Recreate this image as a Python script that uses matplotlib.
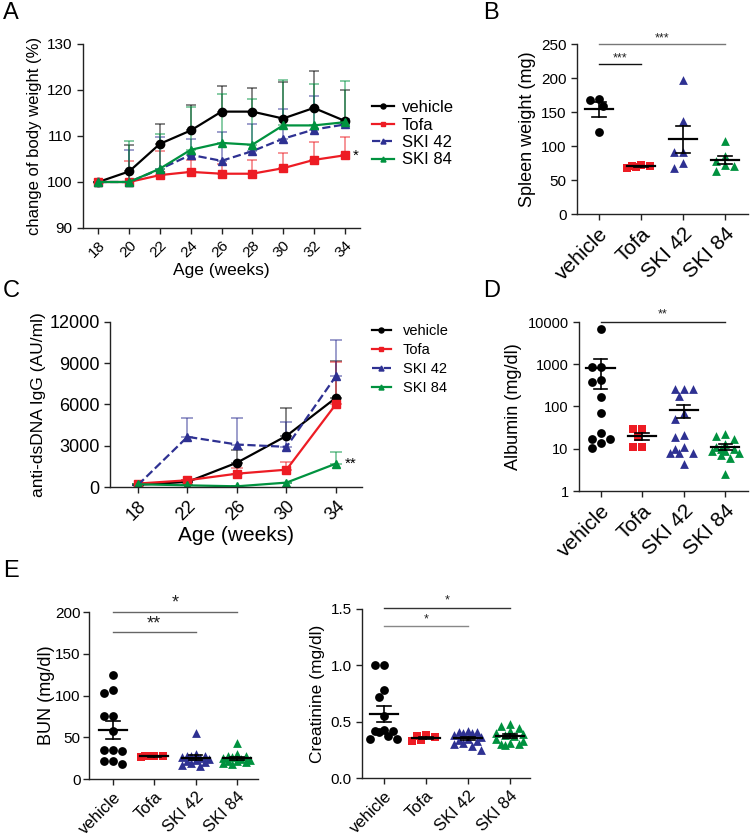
import numpy as np
import matplotlib
matplotlib.use('Agg')
import matplotlib.pyplot as plt

plt.rcParams['font.family'] = ['Liberation Sans', 'DejaVu Sans']
plt.rcParams['axes.linewidth'] = 1.0

W, H = 750, 838

groups = ['vehicle', 'Tofa', 'SKI 42', 'SKI 84']
colors = ['#000000', '#ed1c24', '#2e3192', '#00923f']
markers = ['o', 's', '^', '^']

# A - body weight change (%)
weeks_a = [18, 20, 22, 24, 26, 28, 30, 32, 34]
bw_vehicle = [100, 102.3, 108.3, 111.2, 115.3, 115.3, 113.8, 116.1, 113.3]
bw_tofa = [100, 100, 101.5, 102.2, 101.8, 101.8, 103.0, 104.8, 105.8]
bw_ski42 = [100, 100, 102.8, 105.9, 104.6, 106.7, 109.4, 111.4, 112.5]
bw_ski84 = [100, 100, 102.9, 107.0, 108.5, 108.1, 112.3, 112.3, 113.0]
bw_vehicle_err = [0, 5.8, 4.3, 5.6, 5.6, 5.1, 7.9, 8.1, 6.7]
bw_tofa_err = [0, 4.5, 5.2, 2.5, 2.2, 2.9, 3.3, 3.8, 4.0]
bw_ski42_err = [0, 6.9, 7.0, 3.5, 6.3, 6.0, 6.4, 7.4, 1.3]
bw_ski84_err = [0, 9.0, 7.5, 9.4, 10.6, 10.0, 9.9, 9.0, 8.9]

# B - spleen weight (mg)
spleen = [
    [169, 167, 159, 120],
    [70, 68, 72, 69, 71],
    [197, 137, 91, 91, 75, 67],
    [108, 85, 78, 72, 70, 63],
]

# C - anti-dsDNA IgG (AU/ml)
weeks_c = [18, 22, 26, 30, 34]
ig_vehicle = [170, 370, 1770, 3720, 6490]
ig_tofa = [250, 490, 970, 1260, 6030]
ig_ski42 = [150, 3650, 3090, 2920, 8070]
ig_ski84 = [200, 120, 50, 320, 1700]
ig_vehicle_err = [0, 0, 950, 2000, 2650]
ig_tofa_err = [0, 0, 420, 560, 3050]
ig_ski42_err = [0, 1380, 1900, 1820, 2650]
ig_ski84_err = [0, 0, 0, 0, 850]

# D - albumin (mg/dl)
albumin = [
    [6830, 880, 870, 424, 373, 165, 71, 17, 23, 14, 17, 10.6],
    [29, 29, 19, 11, 11],
    [255, 255, 255, 177, 71, 50, 21, 19, 10, 8, 8, 8, 11, 4.4],
    [22, 20, 17, 13, 11, 10, 10, 9, 9, 8, 7, 6, 2.5],
]

# E - BUN and creatinine (mg/dl)
bun = [
    [124, 103, 107, 76, 75, 58, 35, 34, 35, 18, 22, 22],
    [28, 27, 27, 26, 28],
    [55, 30, 28, 27, 27, 26, 25, 24, 23, 22, 20, 19, 17, 16],
    [43, 30, 28, 27, 26, 25, 24, 23, 22, 21, 20, 19, 18],
]
creat = [
    [1.0, 1.0, 0.78, 0.72, 0.55, 0.43, 0.42, 0.42, 0.41, 0.37, 0.35, 0.35],
    [0.38, 0.37, 0.36, 0.34, 0.33],
    [0.42, 0.41, 0.41, 0.40, 0.40, 0.38, 0.36, 0.35, 0.34, 0.33, 0.31, 0.30, 0.28, 0.25],
    [0.48, 0.46, 0.44, 0.42, 0.40, 0.39, 0.38, 0.37, 0.35, 0.33, 0.31, 0.30, 0.30, 0.29],
]

fig = plt.figure(figsize=(W / 100, H / 100), dpi=100)


def px_axes(left, top, right, bottom):
    ax = fig.add_axes([left / W, 1 - bottom / H, (right - left) / W, (bottom - top) / H])
    ax.spines['top'].set_visible(False)
    ax.spines['right'].set_visible(False)
    for s in ['left', 'bottom']:
        ax.spines[s].set_color('#222222')
    ax.tick_params(direction='out', length=4, width=1, color='#222222')
    return ax


def swarm(ax, x0, vals, d, maxw=14):
    # spread points sideways (in pixels) so they overlap less, within +-maxw
    vals = np.asarray(vals, dtype=float)
    disp = ax.transData.transform(np.column_stack([np.full(len(vals), x0), vals]))
    cx = disp[0, 0]
    ys = disp[:, 1]
    cands = [0.0]
    k = 1
    while k * 0.5 * d <= maxw:
        cands += [-k * 0.5 * d, k * 0.5 * d]
        k += 1
    placed = []
    offs = np.zeros(len(vals))
    for i in np.argsort(-ys):
        best, best_gap = 0.0, -1
        for c in cands:
            gap = min([np.hypot(c - px, ys[i] - py) for px, py in placed] + [1e9])
            if gap >= 0.9 * d:
                best = c
                break
            if gap > best_gap:
                best, best_gap = c, gap
        offs[i] = best
        placed.append((best, ys[i]))
    back = ax.transData.inverted().transform(np.column_stack([cx + offs, ys]))
    return back[:, 0]


def dot_panel(ax, data, d=9, s=40):
    for i, vals in enumerate(data):
        xs = swarm(ax, i, vals, d)
        ax.scatter(xs, vals, marker=markers[i], color=colors[i], s=s, linewidths=0, zorder=3, clip_on=False)
        m = np.mean(vals)
        sem = np.std(vals, ddof=1) / np.sqrt(len(vals))
        ax.plot([i - 0.34, i + 0.34], [m, m], color='k', lw=1.6, zorder=4)
        ax.plot([i, i], [m - sem, m + sem], color='k', lw=1.2, zorder=4)
        for yy in (m - sem, m + sem):
            ax.plot([i - 0.16, i + 0.16], [yy, yy], color='k', lw=1.2, zorder=4)
    ax.set_xticks(range(4))


def sig(ax, x1, x2, y, ytext, label, color='#555555', fs=9):
    ax.plot([x1, x2], [y, y], color=color, lw=1.0, clip_on=False)
    ax.text((x1 + x2) / 2, ytext, label, ha='center', va='center', fontsize=fs, color='#222222')


def panel_label(x, y, t):
    fig.text(x / W, 1 - y / H, t, ha='left', va='top', fontsize=17)


def rotate_ticks(ax):
    for lab in ax.get_xticklabels():
        lab.set_rotation(45)
        lab.set_ha('right')
        lab.set_rotation_mode('anchor')


# ---- A ----
axA = px_axes(83, 44, 360, 228)
series_a = [(bw_vehicle, bw_vehicle_err), (bw_tofa, bw_tofa_err), (bw_ski42, bw_ski42_err), (bw_ski84, bw_ski84_err)]
for (v, e), c in zip(series_a, colors):
    axA.errorbar(weeks_a, v, yerr=[np.zeros(len(e)), e], fmt='none', ecolor=c, alpha=0.55,
                 elinewidth=1.2, capsize=3.5, capthick=1.2)
handles = []
for (v, e), c, mk, g in zip(series_a, colors, markers, groups):
    ls = '--' if g == 'SKI 42' else '-'
    h, = axA.plot(weeks_a, v, color=c, marker=mk, ms=6, lw=1.6, ls=ls, label=g)
    handles.append(h)
axA.set_xlim(17, 35)
axA.set_ylim(90, 130)
axA.set_yticks([90, 100, 110, 120, 130])
axA.set_xticks(weeks_a)
axA.tick_params(axis='y', labelsize=11)
axA.tick_params(axis='x', labelsize=11)
rotate_ticks(axA)
axA.set_ylabel('change of body weight (%)', fontsize=12)
axA.set_xlabel('Age (weeks)', fontsize=12.5, labelpad=2)
axA.text(34.5, bw_tofa[-1], '*', fontsize=11, va='center', ha='left')
fig.legend(handles, groups, loc='upper left', bbox_to_anchor=(372 / W, 1 - 100 / H),
           frameon=False, fontsize=12, handlelength=1.3, handletextpad=0.5,
           labelspacing=0.15, borderaxespad=0, borderpad=0, markerscale=0.6)

# ---- B ----
axB = px_axes(577, 44, 748, 214)
axB.set_xlim(-0.52, 3.55)
axB.set_ylim(0, 250)
dot_panel(axB, spleen, d=9, s=40)
axB.set_xticklabels(groups, fontsize=15)
rotate_ticks(axB)
axB.tick_params(axis='y', labelsize=11)
axB.set_ylabel('Spleen weight (mg)', fontsize=13)
sig(axB, 0, 1, 220, 229, '***', color='#111111', fs=9)
sig(axB, 0, 3, 250, 258, '***', color='#777777', fs=9)

# ---- C ----
axC = px_axes(110, 322, 362, 487)
series_c = [(ig_vehicle, ig_vehicle_err), (ig_tofa, ig_tofa_err), (ig_ski42, ig_ski42_err), (ig_ski84, ig_ski84_err)]
for (v, e), c in zip(series_c, colors):
    axC.errorbar(weeks_c, v, yerr=[np.zeros(len(e)), e], fmt='none', ecolor=c, alpha=0.55,
                 elinewidth=1.2, capsize=4, capthick=1.2)
handles_c = []
for (v, e), c, mk, g in zip(series_c, colors, markers, groups):
    ls = '--' if g == 'SKI 42' else '-'
    h, = axC.plot(weeks_c, v, color=c, marker=mk, ms=6, lw=1.6, ls=ls, label=g)
    handles_c.append(h)
axC.set_xlim(15.74, 36.1)
axC.set_ylim(0, 12000)
axC.set_yticks([0, 3000, 6000, 9000, 12000])
axC.set_xticks(weeks_c)
axC.tick_params(axis='both', labelsize=13)
rotate_ticks(axC)
axC.set_ylabel('anti-dsDNA IgG (AU/ml)', fontsize=12.5, labelpad=2)
axC.set_xlabel('Age (weeks)', fontsize=15, labelpad=2)
axC.text(34.7, ig_ski84[-1], '**', fontsize=11, va='center', ha='left')
fig.legend(handles_c, groups, loc='upper left', bbox_to_anchor=(372 / W, 1 - 324 / H),
           frameon=False, fontsize=10.5, handlelength=1.3, handletextpad=0.8,
           labelspacing=0.35, borderaxespad=0, borderpad=0, markerscale=0.6)

# ---- D ----
axD = px_axes(579, 322, 748, 491)
axD.set_yscale('log')
axD.set_xlim(-0.52, 3.55)
axD.set_ylim(1, 10000)
axD.set_yticks([1, 10, 100, 1000, 10000])
axD.set_yticklabels(['1', '10', '100', '1000', '10000'])
axD.minorticks_off()
dot_panel(axD, albumin, d=9, s=40)
axD.set_xticklabels(groups, fontsize=15)
rotate_ticks(axD)
axD.tick_params(axis='y', labelsize=10.5)
axD.set_ylabel('Albumin (mg/dl)', fontsize=13)
sig(axD, 0, 3, 10000, 15500, '**', color='#222222', fs=9)

# ---- E left ----
axE1 = px_axes(89, 612, 258, 779)
axE1.set_xlim(-0.58, 3.51)
axE1.set_ylim(0, 200)
axE1.set_yticks([0, 50, 100, 150, 200])
dot_panel(axE1, bun, d=9, s=40)
axE1.set_xticklabels(groups, fontsize=12)
rotate_ticks(axE1)
axE1.tick_params(axis='y', labelsize=11, pad=2)
axE1.set_ylabel('BUN (mg/dl)', fontsize=13, labelpad=0)
sig(axE1, 0, 2, 176, 186, '**', color='#666666', fs=13)
sig(axE1, 0, 3, 200, 211, '*', color='#666666', fs=13)

# ---- E right ----
axE2 = px_axes(362, 609, 530, 778)
axE2.set_xlim(-0.52, 3.48)
axE2.set_ylim(0, 1.5)
axE2.set_yticks([0, 0.5, 1.0, 1.5])
axE2.set_yticklabels(['0.0', '0.5', '1.0', '1.5'])
dot_panel(axE2, creat, d=9, s=40)
axE2.set_xticklabels(groups, fontsize=12)
rotate_ticks(axE2)
axE2.tick_params(axis='y', labelsize=11)
axE2.set_ylabel('Creatinine (mg/dl)', fontsize=12.5)
sig(axE2, 0, 2, 1.35, 1.41, '*', color='#888888', fs=9)
sig(axE2, 0, 3, 1.51, 1.58, '*', color='#333333', fs=9)

panel_label(3, 2, 'A')
panel_label(483, 2, 'B')
panel_label(3, 280, 'C')
panel_label(483, 280, 'D')
panel_label(3, 560, 'E')

fig.savefig('out.png', dpi=100)
